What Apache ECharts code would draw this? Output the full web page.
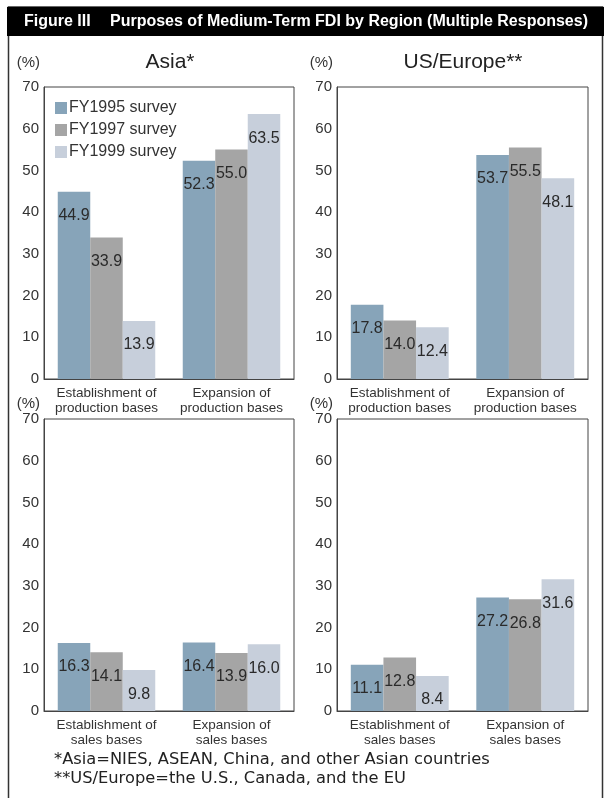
<!DOCTYPE html>
<html>
<head>
<meta charset="utf-8">
<script src="https://cdn.jsdelivr.net/npm/echarts@6/dist/echarts.min.js"></script>
<style>
  html, body { margin: 0; padding: 0; background: #fff; }
  #main { width: 611px; height: 798px; }
</style>
</head>
<body>
<div id="main"></div>
<script>
// data
const surveys = ['FY1995 survey', 'FY1997 survey', 'FY1999 survey']
const prodCats = ['Establishment of\nproduction bases', 'Expansion of\nproduction bases']
const salesCats = ['Establishment of\nsales bases', 'Expansion of\nsales bases']
const yTicks = [0, 70, 10] // min, max, interval

// one array per survey: [establishment, expansion]
const asiaProd = [[44.9, 52.3], [33.9, 55.0], [13.9, 63.5]]
const usProd = [[17.8, 53.7], [14.0, 55.5], [12.4, 48.1]]
const asiaSales = [[16.3, 16.4], [14.1, 13.9], [9.8, 16.0]]
const usSales = [[11.1, 27.2], [12.8, 26.8], [8.4, 31.6]]

const colors = ['#87a4b9', '#a5a5a5', '#c7cfdb']
const font = 'Liberation Sans, Arial, sans-serif'

const chart = echarts.init(document.getElementById('main'), null, { renderer: 'canvas' })

const grids = [
  { left: 44, top: 87, width: 250, height: 292 },
  { left: 337, top: 87, width: 251, height: 292 },
  { left: 44, top: 419, width: 250, height: 292 },
  { left: 337, top: 419, width: 251, height: 292 }
].map(g => Object.assign(g, { show: true, borderColor: '#444', borderWidth: 1, containLabel: false }))

const panels = [asiaProd, usProd, asiaSales, usSales]
const panelCats = [prodCats, prodCats, salesCats, salesCats]
const unitGap = [17, 17, 8, 8]

const xAxes = panelCats.map((cats, i) => ({
  type: 'category',
  gridIndex: i,
  data: cats,
  axisTick: { show: false },
  axisLine: { lineStyle: { color: '#444' } },
  axisLabel: {
    interval: 0,
    margin: 7,
    color: '#333',
    fontFamily: font,
    fontSize: 13.5,
    lineHeight: 15
  }
}))

const yAxes = panelCats.map((c, i) => ({
  type: 'value',
  gridIndex: i,
  min: yTicks[0],
  max: yTicks[1],
  interval: yTicks[2],
  name: '(%)',
  nameLocation: 'end',
  nameGap: unitGap[i],
  nameTextStyle: { align: 'right', padding: [0, 4, 0, 0], color: '#333', fontFamily: font, fontSize: 15 },
  splitLine: { show: false },
  axisTick: { show: false },
  axisLine: { show: true, lineStyle: { color: '#444' } },
  axisLabel: { margin: 5, color: '#333', fontFamily: font, fontSize: 15 }
}))

const series = []
panels.forEach((panel, p) => {
  panel.forEach((vals, s) => {
    series.push({
      name: surveys[s],
      type: 'bar',
      xAxisIndex: p,
      yAxisIndex: p,
      data: vals,
      barGap: 0,
      barCategoryGap: '22%',
      itemStyle: { color: colors[s] },
      label: {
        show: true,
        position: 'insideTop',
        distance: 16,
        color: '#2a2a2a',
        fontFamily: font,
        fontSize: 16,
        formatter: d => d.value.toFixed(1)
      }
    })
  })
})

chart.setOption({
  animation: false,
  textStyle: { fontFamily: font },
  legend: {
    data: surveys,
    orient: 'vertical',
    left: 50,
    top: 95,
    itemWidth: 12,
    itemHeight: 12,
    itemGap: 6,
    icon: 'rect',
    textStyle: { color: '#333', fontSize: 16, fontFamily: font, padding: [0, 0, 0, -3] }
  },
  grid: grids,
  xAxis: xAxes,
  yAxis: yAxes,
  series: series,
  graphic: [
    { type: 'rect', shape: { x: 8.5, y: 7, width: 594, height: 800 }, style: { fill: 'none', stroke: '#333', lineWidth: 1.5 }, z: 10 },
    { type: 'rect', shape: { x: 7, y: 7, width: 597, height: 29 }, style: { fill: '#000' }, z: 11 },
    { type: 'text', x: 24, y: 21.5, z: 12, style: { text: 'Figure III', fill: '#fff', font: 'bold 16px ' + font, textVerticalAlign: 'middle' } },
    { type: 'text', x: 110, y: 21.5, z: 12, style: { text: 'Purposes of Medium-Term FDI by Region (Multiple Responses)', fill: '#fff', font: 'bold 16px ' + font, textVerticalAlign: 'middle' } },
    { type: 'text', x: 170, y: 62, style: { text: 'Asia*', fill: '#222', font: '21px ' + font, textAlign: 'center', textVerticalAlign: 'middle' } },
    { type: 'text', x: 463, y: 62, style: { text: 'US/Europe**', fill: '#222', font: '21px ' + font, textAlign: 'center', textVerticalAlign: 'middle' } },
    { type: 'text', x: 54, y: 760, style: { text: '*Asia=NIES, ASEAN, China, and other Asian countries', fill: '#222', font: '16.3px DejaVu Sans, sans-serif', textVerticalAlign: 'middle' } },
    { type: 'text', x: 54, y: 779, style: { text: '**US/Europe=the U.S., Canada, and the EU', fill: '#222', font: '16.3px DejaVu Sans, sans-serif', textVerticalAlign: 'middle' } }
  ]
})
</script>
</body>
</html>
